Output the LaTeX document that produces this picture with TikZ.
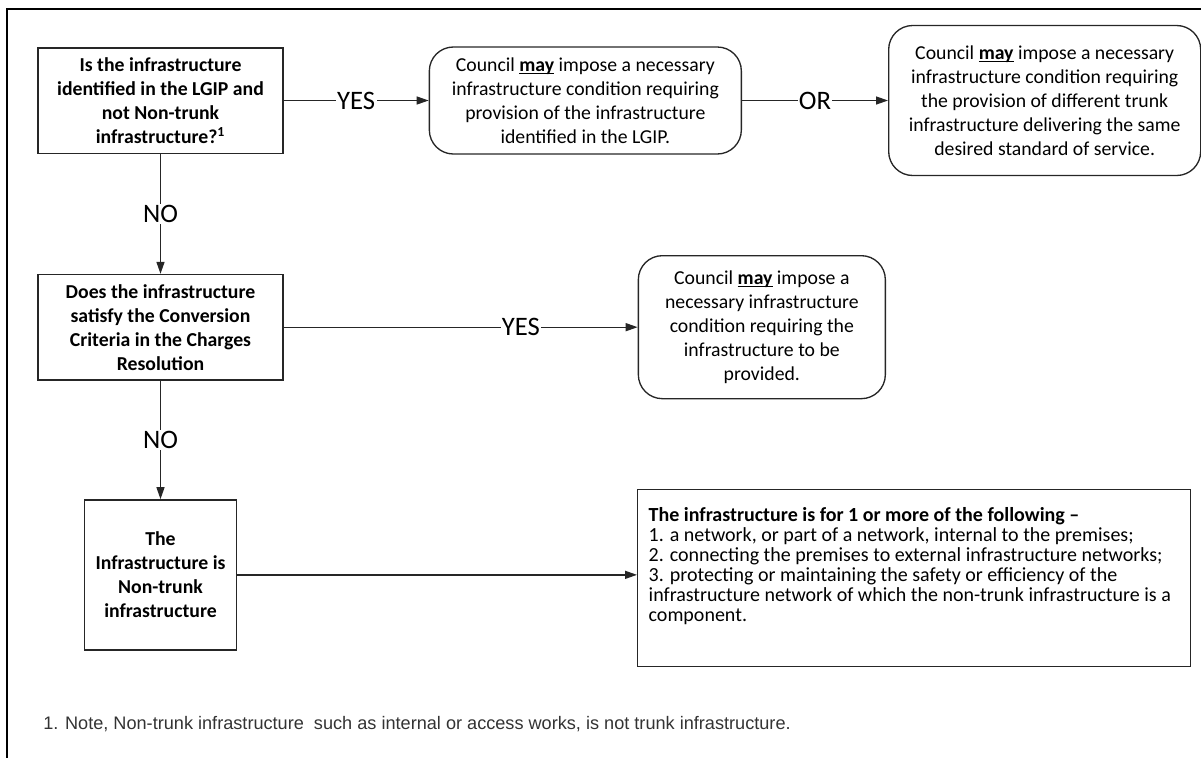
\documentclass[tikz,border=0pt]{standalone}
\usepackage{fontspec}
\setmainfont{Carlito}
\newfontfamily\notefont{Liberation Sans}
\usetikzlibrary{arrows.meta, positioning}
\newsavebox\maybox
\newcommand{\may}{\sbox\maybox{\textbf{may}}\usebox\maybox\llap{\rule[-2.2pt]{\wd\maybox}{0.9pt}}}

\begin{document}
\begin{tikzpicture}[
    x=0.75pt, y=-0.75pt,
    question/.style={rectangle, minimum width=183.75pt, minimum height=79pt, inner sep=2pt, text centered, align=center, draw=black!85, line width=1pt, font=\fontsize{14.8}{18}\selectfont\bfseries},
    council/.style={rectangle, rounded corners=18pt, minimum width=234pt, inner sep=2pt, text centered, align=center, draw=black!85, line width=1pt, font=\fontsize{14.8}{18}\selectfont},
    listbox/.style={rectangle, inner xsep=8.25pt, inner ysep=13.5pt, align=left, draw=black!85, line width=1pt, font=\fontsize{15}{15}\selectfont},
    arrow/.style={-{Triangle[length=9pt, width=6pt]}, line width=1pt, draw=black!85},
    lbl/.style={fill=white, inner sep=1pt, font=\fontsize{20}{22}\selectfont}
]
\useasboundingbox (0,0) rectangle (1201,758);

% Frame
\draw [line width=1.5pt] (1201,9) -- (7,9) -- (7,758);

% Nodes
\node (q1) [question] at (160.5,100.5) {Is the infrastructure\\identified in the LGIP and\\not Non-trunk\\infrastructure?\textsuperscript{1}};
\node (opt1) [council, minimum height=80.25pt, right=108.75pt of q1] {Council \may{} impose a necessary\\infrastructure condition requiring\\provision of the infrastructure\\identified in the LGIP.};
\node (opt2) [council, minimum height=112.5pt, right=109.5pt of opt1] {Council \may{} impose a necessary\\infrastructure condition requiring\\the provision of different trunk\\infrastructure delivering the same\\desired standard of service.};
\node (q2) [question, below=90pt of q1] {Does the infrastructure\\satisfy the Conversion\\Criteria in the Charges\\Resolution};
\node (opt3) [council, minimum width=185.25pt, minimum height=107.25pt, right=265.5pt of q2] {Council \may{} impose a\\necessary infrastructure\\condition requiring the\\infrastructure to be\\provided.};
\node (nontrunk) [question, minimum width=114pt, minimum height=112.5pt, below=89pt of q2] {The\\Infrastructure is\\Non-trunk\\infrastructure};
\node (purpose) [listbox, anchor=north west] at (637,489) {\parbox[t][105.75pt][t]{398.25pt}{\mbox{\textbf{The infrastructure is for 1 or more of the following --}}\\
\mbox{1. a network, or part of a network, internal to the premises;}\\
\mbox{2. connecting the premises to external infrastructure networks;}\\
\mbox{3. protecting or maintaining the safety or efficiency of the}\\
\mbox{infrastructure network of which the non-trunk infrastructure is a}\\
\mbox{component.}}};
\node (note) [anchor=west, inner sep=0pt, font=\notefont\fontsize{13.6}{16}\selectfont, text=black!80] at (43,724) {1. Note, Non-trunk infrastructure\ \ such as internal or access works, is not trunk infrastructure.};

% Arrows
\draw [arrow] (q1) -- node[lbl] {YES} (opt1);
\draw [arrow] (opt1) -- node[lbl] {OR} (opt2);
\draw [arrow] (q1) -- node[lbl] {NO} (q2);
\draw [arrow] (q2) -- node[lbl, pos=0.67] {YES} (opt3);
\draw [arrow] (q2) -- node[lbl] {NO} (nontrunk);
\draw [arrow] (nontrunk.east) -- (nontrunk.east -| purpose.west);

\end{tikzpicture}
\end{document}
